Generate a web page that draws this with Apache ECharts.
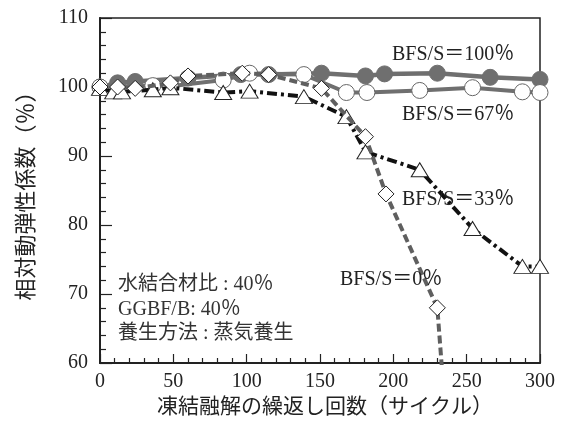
<!DOCTYPE html>
<html><head><meta charset="utf-8">
<script src="https://cdn.jsdelivr.net/npm/echarts@6/dist/echarts.min.js"></script>
<style>html,body{margin:0;padding:0;background:#fff}#c{width:564px;height:437px}</style>
</head><body><div id="c"></div>
<script>
// ---- data ----
const cycles100 = [0, 12, 24, 60, 96, 115, 151, 181, 194, 230, 266, 300];
const bfs100    = [100, 100.6, 100.8, 101.3, 101.8, 101.8, 102.0, 101.6, 101.9, 102.0, 101.4, 101.1];
const cycles67  = [0, 36, 48, 84, 102, 139, 168, 182, 218, 254, 288, 300];
const bfs67     = [100, 100.2, 100.1, 101.0, 102.0, 101.8, 99.2, 99.2, 99.5, 99.9, 99.3, 99.2];
const cycles33  = [0, 9, 15, 36, 48, 84, 102, 139, 168, 181, 218, 254, 288, 300];
const bfs33     = [99.8, 99.3, 99.3, 99.6, 99.9, 99.2, 99.4, 98.6, 95.7, 90.6, 88.0, 79.5, 74.0, 74.0];
const cycles0   = [0, 12, 24, 48, 60, 97, 115, 151, 181, 195, 230, 240];
const bfs0      = [100, 100.0, 99.8, 100.6, 101.6, 102.0, 101.8, 99.8, 92.8, 84.5, 68.0, 40];
const seriesNames = ['BFS/S＝100％', 'BFS/S＝67％', 'BFS/S＝33％', 'BFS/S＝0％'];
const noteLines = ['水結合材比 : 40％', 'GGBF/B: 40％', '養生方法 : 蒸気養生'];
const xTitle = '凍結融解の繰返し回数（サイクル）';
const yTitle = '相対動弾性係数（％）';

const pairs = (xs, ys) => xs.map((x, i) => [x, ys[i]]);
const FONT = "'Liberation Serif','Noto Sans CJK JP',serif";
const GRAY = '#6f6f6f';

const chart = echarts.init(document.getElementById('c'), null, {renderer: 'canvas'});
const textEl = (t, x, y, color) => ({
  type: 'text', x: x, y: y, z: 100,
  style: {text: t, fill: color || '#222', fontSize: 20, fontFamily: FONT, align: 'left', verticalAlign: 'middle'}
});

chart.setOption({
  animation: false,
  backgroundColor: '#fff',
  grid: {left: 100, right: 24, top: 18, bottom: 74, show: true, borderColor: '#222', borderWidth: 1.5, backgroundColor: 'transparent'},
  xAxis: {
    type: 'value', min: 0, max: 300, interval: 50,
    name: xTitle, nameLocation: 'middle', nameGap: 30,
    nameTextStyle: {fontSize: 21, fontFamily: FONT, color: '#222', padding: [0, 0, 0, 10]},
    axisLine: {show: true, onZero: false, lineStyle: {color: '#222', width: 2}},
    axisTick: {show: true, inside: true, length: 9, lineStyle: {color: '#222', width: 1.2}},
    minorTick: {show: true, splitNumber: 5, length: 5, lineStyle: {color: '#222', width: 1.2}},
    axisLabel: {margin: 9, fontSize: 20, fontFamily: FONT, color: '#222'},
    splitLine: {show: false}
  },
  yAxis: {
    type: 'value', min: 60, max: 110, interval: 10,
    name: yTitle, nameLocation: 'middle', nameGap: 62, nameRotate: 90,
    nameTextStyle: {fontSize: 22, fontFamily: FONT, color: '#222'},
    axisLine: {show: true, onZero: false, lineStyle: {color: '#222', width: 2}},
    axisTick: {show: true, inside: true, length: 12, lineStyle: {color: '#222', width: 1.2}},
    minorTick: {show: true, splitNumber: 5, length: 6, lineStyle: {color: '#222', width: 1.2}},
    axisLabel: {margin: 12, fontSize: 20, fontFamily: FONT, color: '#222'},
    splitLine: {show: false}
  },
  series: [
    {
      name: seriesNames[0], type: 'line', data: pairs(cycles100, bfs100), z: 2,
      symbol: 'circle', symbolSize: 16, showAllSymbol: true,
      lineStyle: {color: GRAY, width: 4.5},
      itemStyle: {color: GRAY, borderColor: GRAY, borderWidth: 1}
    },
    {
      name: seriesNames[1], type: 'line', data: pairs(cycles67, bfs67), z: 3,
      symbol: 'circle', symbolSize: 16, showAllSymbol: true,
      lineStyle: {color: GRAY, width: 4},
      itemStyle: {color: '#fff', borderColor: '#666', borderWidth: 1}
    },
    {
      name: seriesNames[2], type: 'line', data: pairs(cycles33, bfs33), z: 4,
      symbol: 'triangle', symbolSize: [17, 14], showAllSymbol: true,
      lineStyle: {color: '#111', width: 4, type: [10, 4, 3, 4]},
      itemStyle: {color: '#fff', borderColor: '#222', borderWidth: 1}
    },
    {
      name: seriesNames[3], type: 'line', data: pairs(cycles0, bfs0), z: 5, clip: true,
      symbol: 'diamond', symbolSize: 16, showAllSymbol: true,
      lineStyle: {color: '#5f5f5f', width: 4, type: [8, 4]},
      itemStyle: {color: '#fff', borderColor: '#222', borderWidth: 1}
    }
  ],
  graphic: [
    textEl(seriesNames[0], 392, 55),
    textEl(seriesNames[1], 402, 115),
    textEl(seriesNames[2], 402, 200),
    textEl(seriesNames[3], 340, 280),
    textEl(noteLines[0], 118, 285, '#333'),
    textEl(noteLines[1], 118, 310, '#333'),
    textEl(noteLines[2], 118, 334, '#333')
  ]
});
</script>
</body></html>
